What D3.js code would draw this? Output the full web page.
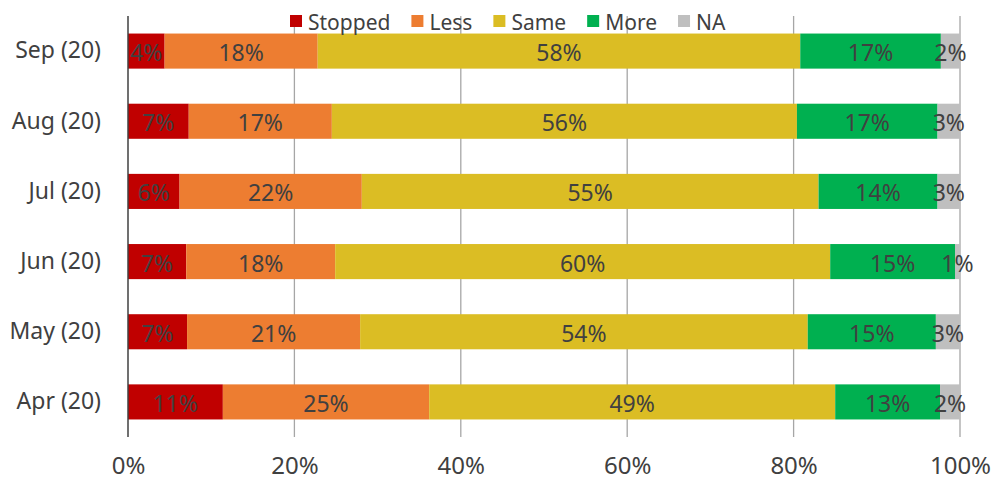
<!DOCTYPE html>
<html><head><meta charset="utf-8">
<script src="https://cdn.jsdelivr.net/npm/d3@7"></script>
<style>body{margin:0;background:#fff}svg{display:block}text{font-family:"Noto Sans",sans-serif;fill:#404040}</style>
</head><body><svg id="c" width="993" height="486"></svg>
<script>
const categories = ["Sep (20)","Aug (20)","Jul (20)","Jun (20)","May (20)","Apr (20)"];
const seriesNames = ["Stopped","Less","Same","More","NA"];
const colors = ["#C00000","#ED7D31","#DBBD24","#00B050","#BFBFBF"];
const stopped = [4.4, 7.3, 6.2, 7.0, 7.1, 11.4];
const less    = [18.4,17.2,21.9,17.9,20.8,24.8];
const same    = [58.0,55.9,54.9,59.5,53.8,48.8];
const more    = [16.9,16.9,14.3,15.0,15.4,12.6];
const na      = [2.3, 2.7, 2.7, 0.6, 2.9, 2.4];
const tickValues = [0,20,40,60,80,100];

const FONT = "'Noto Sans',sans-serif";
const series = [stopped, less, same, more, na];
const rows = categories.map((c,i)=>{const o={cat:c}; seriesNames.forEach((s,j)=>o[s]=series[j][i]); return o;});
const stack = d3.stack().keys(seriesNames)(rows);

const svg = d3.select("#c");
const x = d3.scaleLinear().domain([0,100]).range([128,960]);
const y = d3.scaleBand().domain(categories).range([16,437]).paddingInner(0.5).paddingOuter(0.25);

// gridlines
svg.append("g").selectAll("line").data(tickValues.slice(1)).join("line")
  .attr("x1",d=>x(d)).attr("x2",d=>x(d)).attr("y1",16).attr("y2",437)
  .attr("stroke","#A6A6A6").attr("stroke-width",1.3);

// bars
const g = svg.append("g");
stack.forEach((layer,j)=>{
  g.append("g").selectAll("rect").data(layer).join("rect")
    .attr("x",d=>x(d[0])).attr("width",d=>x(d[1])-x(d[0]))
    .attr("y",d=>y(d.data.cat)).attr("height",y.bandwidth())
    .attr("fill",colors[j]);
});
// labels
stack.forEach((layer,j)=>{
  g.append("g").selectAll("text").data(layer).join("text")
    .attr("x",d=>(x(d[0])+x(d[1]))/2).attr("y",d=>y(d.data.cat)+y.bandwidth()/2+1)
    .attr("text-anchor","middle").attr("dominant-baseline","central")
    .style("font-size","23px")
    .text(d=>Math.round(d[1]-d[0])+"%");
});

// zero axis line
svg.append("line").attr("x1",x(0)).attr("x2",x(0)).attr("y1",16).attr("y2",437)
  .attr("stroke","#404040").attr("stroke-width",1.5);

// x axis labels
const xa = svg.append("g").attr("transform","translate(0,437)")
  .call(d3.axisBottom(x).tickValues(tickValues).tickFormat(d=>d+"%").tickSize(0).tickPadding(20));
xa.select(".domain").remove();
xa.selectAll("text").style("font-size","24px").style("font-family",FONT).attr("fill","#404040");

// y axis labels
const ya = svg.append("g").attr("transform","translate(101,0)")
  .call(d3.axisLeft(y).tickSize(0).tickPadding(0));
ya.select(".domain").remove();
ya.selectAll("text").style("font-size","23px").style("font-family",FONT).attr("fill","#404040");

// legend
const lg = svg.append("g");
let lx = 290;
seriesNames.forEach((s,j)=>{
  lg.append("rect").attr("x",lx).attr("y",15).attr("width",12).attr("height",12).attr("fill",colors[j]);
  const t = lg.append("text").attr("x",lx+18).attr("y",22).attr("dominant-baseline","central")
    .style("font-size","21px").text(s);
  lx += 18 + t.node().getComputedTextLength() + 21;
});
</script></body></html>
